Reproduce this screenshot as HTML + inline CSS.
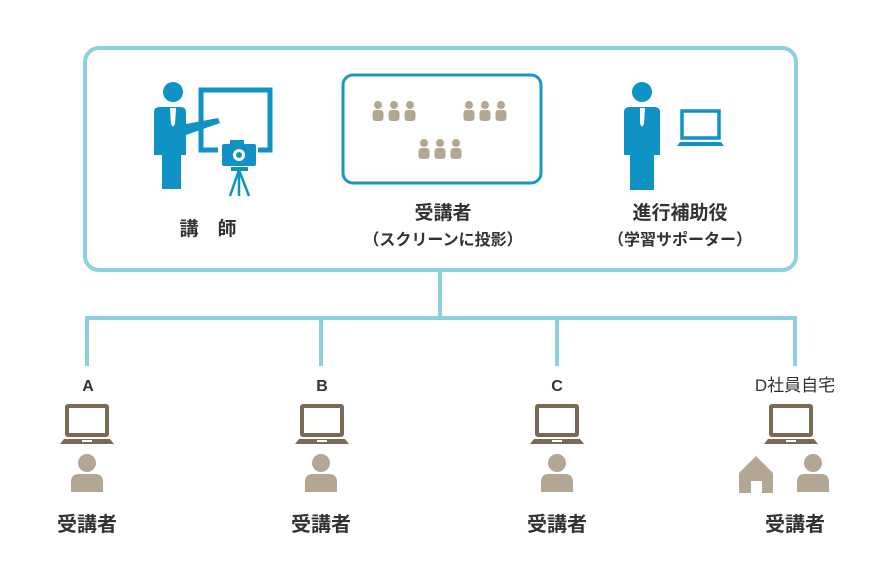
<!DOCTYPE html>
<html><head><meta charset="utf-8"><style>
html,body{margin:0;padding:0;background:#fff;}
svg{display:block;}
text{font-family:"Liberation Sans","Noto Sans CJK JP",sans-serif;font-weight:bold;fill:#333;}
</style></head><body>
<svg width="881" height="587" viewBox="0 0 881 587" xmlns="http://www.w3.org/2000/svg">
<defs>
 <g id="aud">
  <circle cx="6" cy="4" r="4" fill="#b3a793"/><rect x="0.5" y="9" width="11" height="11" rx="3" fill="#b3a793"/>
  <circle cx="22" cy="4" r="4" fill="#b3a793"/><rect x="16.5" y="9" width="11" height="11" rx="3" fill="#b3a793"/>
  <circle cx="38" cy="4" r="4" fill="#b3a793"/><rect x="32.5" y="9" width="11" height="11" rx="3" fill="#b3a793"/>
 </g>
 <g id="lap">
  <rect x="7" y="2" width="40" height="29" fill="none" stroke="#7a6a55" stroke-width="4" rx="1"/>
  <path d="M0 40 L4 35 L50 35 L54 40 Z" fill="#7a6a55"/>
  <rect x="22" y="36" width="10" height="2" fill="#fff"/>
 </g>
 <g id="per">
  <circle cx="16" cy="9" r="9" fill="#b3a793"/>
  <path d="M0 38 V28 Q0 20 8 20 H24 Q32 20 32 28 V38 Z" fill="#b3a793"/>
 </g>
</defs>
<!-- outer box -->
<rect x="85" y="48" width="711" height="222" rx="14" fill="none" stroke="#8fd0e0" stroke-width="4"/>
<!-- connectors -->
<g stroke="#8fd0e0" stroke-width="4" fill="none">
 <line x1="440" y1="270" x2="440" y2="318"/>
 <line x1="85" y1="318" x2="797" y2="318"/>
 <line x1="87" y1="316" x2="87" y2="366"/>
 <line x1="321" y1="316" x2="321" y2="366"/>
 <line x1="557" y1="316" x2="557" y2="366"/>
 <line x1="795" y1="316" x2="795" y2="366"/>
</g>
<!-- teacher -->
<g fill="#0e93c4">
 <circle cx="173" cy="92" r="10"/>
 <path d="M154 112 Q154 107 160 107 H180 Q186 107 186 112 V124 L218 118 L220 123 L186 135 V155 H181 V189 H162 V155 H154 Z"/>
</g>
<path d="M170 108 L176 108 L175 124 L173 127 L171 124 Z" fill="#fff"/>
<path d="M218 150 H201 V90 H270 V150 H258" fill="none" stroke="#0e93c4" stroke-width="5"/>
<g fill="#0e93c4">
 <rect x="222" y="144" width="34" height="22" rx="2"/>
 <rect x="230" y="140" width="14" height="6"/>
 <rect x="231" y="167" width="17" height="4"/>
</g>
<circle cx="239" cy="155" r="6" fill="#fff"/><circle cx="239" cy="155" r="3" fill="#0e93c4"/>
<g stroke="#0e93c4" stroke-width="2.5"><line x1="239" y1="170" x2="230" y2="196"/><line x1="239" y1="170" x2="239" y2="196"/><line x1="239" y1="170" x2="249" y2="196"/></g>
<text x="208" y="235" font-size="19" text-anchor="middle">講　師</text>
<!-- screen -->
<rect x="343" y="75" width="198" height="108" rx="10" fill="none" stroke="#1a96c9" stroke-width="3"/>
<use href="#aud" x="372" y="101"/>
<use href="#aud" x="463" y="101"/>
<use href="#aud" x="418" y="139"/>
<text x="443" y="219" font-size="19" text-anchor="middle">受講者</text>
<text x="443" y="245" font-size="16" text-anchor="middle">（スクリーンに投影）</text>
<!-- assistant -->
<g fill="#0e93c4">
 <circle cx="642" cy="92" r="10"/>
 <path d="M624 112 Q624 107 630 107 H654 Q660 107 660 112 V155 H654 V190 H630 V155 H624 Z"/>
</g>
<path d="M640 108 L645 108 L644 124 L642 127 L640 124 Z" fill="#fff"/>
<rect x="682" y="111" width="37" height="27" fill="none" stroke="#0e93c4" stroke-width="3.5"/>
<path d="M677 146 L680 142 L721 142 L724 146 Z" fill="#0e93c4"/>
<text x="680" y="219" font-size="19" text-anchor="middle">進行補助役</text>
<text x="680" y="245" font-size="16" text-anchor="middle">（学習サポーター）</text>
<!-- bottom -->
<text x="88" y="391" font-size="16" text-anchor="middle">A</text>
<text x="322" y="391" font-size="16" text-anchor="middle">B</text>
<text x="557" y="391" font-size="16" text-anchor="middle">C</text>
<text x="795" y="391" font-size="17" text-anchor="middle" style="font-weight:normal">D社員自宅</text>
<use href="#lap" x="60" y="404"/>
<use href="#lap" x="295" y="404"/>
<use href="#lap" x="530" y="404"/>
<use href="#lap" x="764" y="404"/>
<use href="#per" x="71" y="454"/>
<use href="#per" x="305" y="454"/>
<use href="#per" x="541" y="454"/>
<use href="#per" x="797" y="454"/>
<path d="M739 473 L756 456 L773 473 V493 H762 V481 H751 V493 H739 Z" fill="#b3a793"/>
<text x="87" y="531" font-size="20" text-anchor="middle">受講者</text>
<text x="321" y="531" font-size="20" text-anchor="middle">受講者</text>
<text x="557" y="531" font-size="20" text-anchor="middle">受講者</text>
<text x="795" y="531" font-size="20" text-anchor="middle">受講者</text>
</svg>
</body></html>
